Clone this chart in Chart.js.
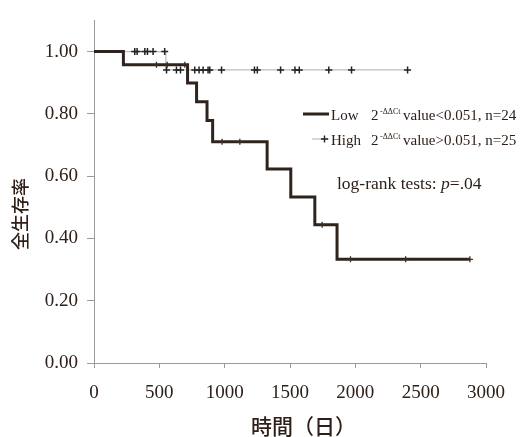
<!DOCTYPE html>
<html>
<head>
<meta charset="utf-8">
<script src="https://cdn.jsdelivr.net/npm/chart.js@4.4.1/dist/chart.umd.min.js"></script>
<style>
  html, body { margin: 0; padding: 0; background: #ffffff; }
  #wrap { width: 531px; height: 437px; }
</style>
</head>
<body>
<div id="wrap"><canvas id="kmChart" width="531" height="437"></canvas></div>
<script>
// Low group: step times (days) and survival after each step
const lowTimes = [0, 225, 716, 785, 865, 908, 1325, 1506, 1690, 1860, 2877];
const lowSurv = [1.00, 0.958, 0.899, 0.839, 0.779, 0.710, 0.623, 0.533, 0.444, 0.333, 0.333];
const lowCensored = [478, 560, 695, 980, 1116, 1746, 1963, 2385, 2877];

// High group
const highTimes = [0, 550, 2400];
const highSurv = [1.00, 0.941, 0.941];
const highCensored = [312, 330, 389, 409, 452, 541, 555, 631, 662, 771, 804, 835, 873,
    886, 976, 1228, 1250, 1428, 1538, 1571, 1797, 1971, 2400];

const xTicks = [0, 500, 1000, 1500, 2000, 2500, 3000];
const yTicks = [0, 0.2, 0.4, 0.6, 0.8, 1.0];

const textColor = "#2e2019";
const axisColor = "#9a9a9a";

/* global Chart */

function survivalAt(times, surv, t)
{
    let s = surv[0];
    for (let i = 0; i < times.length; i++)
    {
        if (times[i] <= t) s = surv[i];
    }
    return s;
}

function curvePoints(times, surv)
{
    return times.map((t, i) => ({ x: t, y: surv[i] }));
}

function censorPoints(times, surv, cens)
{
    return cens.map(t => ({ x: t, y: survivalAt(times, surv, t) }));
}

// legend, annotation and axis titles
const textPlugin = {
    id: "kmText",
    afterDraw(chart)
    {
        const ctx = chart.ctx;
        ctx.save();
        ctx.fillStyle = textColor;
        ctx.textBaseline = "alphabetic";
        ctx.textAlign = "left";

        // legend rows
        ctx.strokeStyle = "#2f231d";
        ctx.lineWidth = 3;
        ctx.beginPath();
        ctx.moveTo(303, 114);
        ctx.lineTo(329, 114);
        ctx.stroke();

        ctx.strokeStyle = "#bdbdbd";
        ctx.lineWidth = 1.2;
        ctx.beginPath();
        ctx.moveTo(312, 139);
        ctx.lineTo(329, 139);
        ctx.stroke();
        ctx.strokeStyle = "#222";
        ctx.lineWidth = 1.4;
        ctx.beginPath();
        ctx.moveTo(321, 139);
        ctx.lineTo(328, 139);
        ctx.moveTo(324.5, 135.5);
        ctx.lineTo(324.5, 142.5);
        ctx.stroke();

        const rows = [
            { name: "Low", rest: "value<0.051, n=24", base: 120 },
            { name: "High", rest: "value>0.051, n=25", base: 145 }
        ];
        rows.forEach(r => {
            ctx.font = '15px "Liberation Serif"';
            ctx.fillText(r.name, 331, r.base);
            ctx.fillText("2", 371, r.base);
            ctx.font = '8px "Liberation Serif"';
            ctx.fillText("-\u0394\u0394Ct", 380, r.base - 6);
            ctx.font = '15px "Liberation Serif"';
            ctx.fillText(r.rest, 403, r.base);
        });

        // log-rank annotation
        let x = 337;
        ctx.font = '17.5px "Liberation Serif"';
        ctx.fillText("log-rank tests: ", x, 189);
        x += ctx.measureText("log-rank tests: ").width;
        ctx.font = 'italic 17.5px "Liberation Serif"';
        ctx.fillText("p", x, 189);
        x += ctx.measureText("p").width;
        ctx.font = '17.5px "Liberation Serif"';
        ctx.fillText("=.04", x, 189);

        // axis titles
        ctx.font = '500 18px "Noto Sans CJK JP"';
        ctx.textBaseline = "middle";
        ctx.textAlign = "center";
        ctx.save();
        ctx.translate(20, 214);
        ctx.rotate(-Math.PI / 2);
        ctx.fillText("全生存率", 0, 0);
        ctx.restore();

        ctx.font = '500 21px "Noto Sans CJK JP"';
        ctx.textAlign = "left";
        ctx.fillText("時間（日）", 251, 426);

        ctx.restore();
    }
};

const kmChart = new Chart(
    document.getElementById("kmChart"),
    {
        type: "line",
        data: {
            datasets: [
                {
                    label: "Low",
                    data: curvePoints(lowTimes, lowSurv),
                    stepped: true,
                    borderColor: "#2f231d",
                    borderWidth: 3,
                    pointRadius: 0,
                    fill: false,
                    order: 1
                },
                {
                    label: "Low censored",
                    type: "scatter",
                    data: censorPoints(lowTimes, lowSurv, lowCensored),
                    pointStyle: "cross",
                    pointRadius: 3,
                    borderColor: "#3a2c25",
                    borderWidth: 1.3,
                    order: 0
                },
                {
                    label: "High",
                    data: curvePoints(highTimes, highSurv),
                    stepped: true,
                    borderColor: "#bdbdbd",
                    borderWidth: 1.2,
                    pointRadius: 0,
                    fill: false,
                    order: 3
                },
                {
                    label: "High censored",
                    type: "scatter",
                    data: censorPoints(highTimes, highSurv, highCensored),
                    pointStyle: "cross",
                    pointRadius: 3.5,
                    borderColor: "#222222",
                    borderWidth: 1.5,
                    order: 2
                }
            ]
        },
        options: {
            responsive: false,
            animation: false,
            layout: {
                padding: { left: 0, right: 45, top: 13, bottom: 0 }
            },
            plugins: {
                legend: { display: false },
                tooltip: { enabled: false }
            },
            scales: {
                x: {
                    type: "linear",
                    min: 0,
                    max: 3000,
                    afterBuildTicks: s => { s.ticks = xTicks.map(v => ({ value: v })); },
                    afterFit: s => { s.height = 74; },
                    border: { color: axisColor, width: 1 },
                    grid: { drawOnChartArea: false, color: axisColor, tickLength: 5 },
                    ticks: {
                        color: textColor,
                        padding: 14,
                        font: { family: "Liberation Serif", size: 19 },
                        callback: v => String(v)
                    }
                },
                y: {
                    type: "linear",
                    min: 0,
                    max: 1.1,
                    afterBuildTicks: s => { s.ticks = yTicks.map(v => ({ value: v })); },
                    afterFit: s => { s.width = 94; },
                    border: { color: axisColor, width: 1 },
                    grid: { drawOnChartArea: false, color: axisColor, tickLength: 7 },
                    ticks: {
                        color: textColor,
                        padding: 9,
                        font: { family: "Liberation Serif", size: 19 },
                        callback: v => Number(v).toFixed(2)
                    }
                }
            }
        },
        plugins: [textPlugin]
    }
);
</script>
</body>
</html>
